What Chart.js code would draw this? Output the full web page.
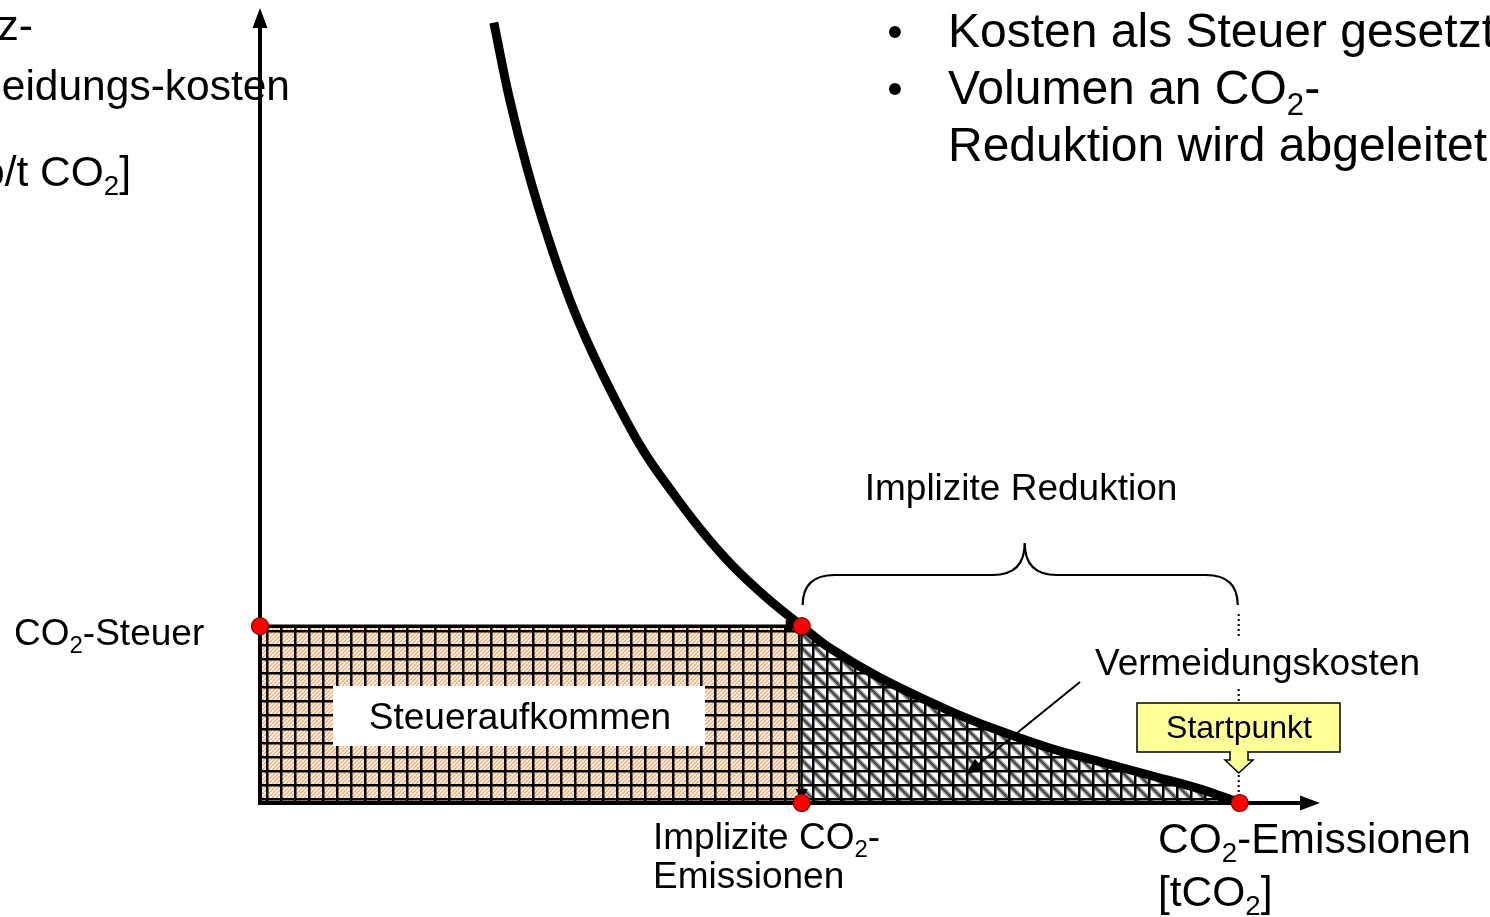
<!DOCTYPE html>
<html lang="de">
<head>
<meta charset="UTF-8">
<title>CO2-Steuer</title>
<script src="https://cdn.jsdelivr.net/npm/chart.js@4.4.0/dist/chart.umd.min.js"></script>
<style>
  html, body { margin: 0; padding: 0; background: #fff; }
  canvas { display: block; }
</style>
</head>
<body>
<canvas id="myChart" width="1490" height="917"></canvas>
<script>
// Grenzvermeidungskostenkurve (x: Emissionen, y: Kosten, beliebige Einheiten)
var curveX = [22.1, 23.6, 25.3, 27.3, 29.3, 31.3, 33.6, 36.2, 38.8, 41.7, 44.6, 47.8, 51.2, 53.9, 58.6, 65.2, 69.9, 74.7, 79.4, 84.1, 88.8, 92.6];
var curveY = [98.4, 88.7, 79.8, 71.0, 63.4, 57.1, 50.8, 44.5, 39.5, 34.4, 30.0, 26.0, 22.3, 19.5, 15.8, 11.6, 9.1, 6.9, 5.2, 3.5, 1.8, 0];
var taxLevel = 22.3;          // CO2-Steuer
var impliedEmissions = 51.2;  // Implizite CO2-Emissionen
var startEmissions = 92.6;    // Startpunkt
var axisMax = 100;

var FONT = '"Liberation Sans", Arial, sans-serif';

function makePattern(kind) {
    var c = document.createElement('canvas');
    c.width = 14; c.height = 14;
    var g = c.getContext('2d');
    g.fillStyle = '#fff';
    g.fillRect(0, 0, 14, 14);
    if (kind === 'orange') {
        g.strokeStyle = '#eeae74';
        g.lineWidth = 1.4;
        for (var k = -14; k <= 28; k += 4) {
            g.beginPath(); g.moveTo(k, 14); g.lineTo(k + 14, 0); g.stroke();
        }
    } else {
        g.strokeStyle = '#a8a8a8';
        g.lineWidth = 5;
        g.beginPath(); g.moveTo(0, 0); g.lineTo(14, 14); g.stroke();
        g.strokeStyle = '#454545';
        g.lineWidth = 2.2;
        g.beginPath(); g.moveTo(0, 0); g.lineTo(14, 14); g.stroke();
    }
    g.fillStyle = '#000';
    g.fillRect(0, 0, 14, 2.5);
    g.fillRect(0, 0, 2.5, 14);
    return g.createPattern(c, 'repeat');
}

var curve = curveX.map(function (x, i) { return { x: x, y: curveY[i] }; });
var costArea = curve.filter(function (p) { return p.x >= impliedEmissions; });
var taxArea = [{ x: 0, y: taxLevel }, { x: impliedEmissions, y: taxLevel }];
var keyPoints = [
    { x: 0, y: taxLevel },
    { x: impliedEmissions, y: taxLevel },
    { x: impliedEmissions, y: 0 },
    { x: startEmissions, y: 0 }
];

function richText(ctx, parts, x, y, size, align) {
    var sub = size * 0.65, w = 0;
    parts.forEach(function (p) {
        ctx.font = (p[1] ? sub : size) + 'px ' + FONT;
        w += ctx.measureText(p[0]).width;
    });
    var cx = align === 'right' ? x - w : (align === 'center' ? x - w / 2 : x);
    ctx.textAlign = 'left';
    ctx.textBaseline = 'alphabetic';
    ctx.fillStyle = '#000';
    parts.forEach(function (p) {
        ctx.font = (p[1] ? sub : size) + 'px ' + FONT;
        ctx.fillText(p[0], cx, p[1] ? y + size * 0.22 : y);
        cx += ctx.measureText(p[0]).width;
    });
}

function arrowHead(ctx, x, y, ang, len, wid) {
    ctx.save();
    ctx.translate(x, y);
    ctx.rotate(ang);
    ctx.beginPath();
    ctx.moveTo(0, 0);
    ctx.lineTo(-len, -wid / 2);
    ctx.lineTo(-len, wid / 2);
    ctx.closePath();
    ctx.fillStyle = '#000';
    ctx.fill();
    ctx.restore();
}

var diagram = {
    id: 'diagram',
    beforeDatasetDraw: function (chart, args) {
        if (args.index !== 2) return;
        // axes, rectangle border and drop line, below the curve
        var ctx = chart.ctx, xs = chart.scales.x, ys = chart.scales.y;
        var x0 = xs.getPixelForValue(0), y0 = ys.getPixelForValue(0);
        var xT = xs.getPixelForValue(impliedEmissions), yT = ys.getPixelForValue(taxLevel);
        ctx.save();
        ctx.strokeStyle = '#000';
        ctx.lineCap = 'butt';
        ctx.lineWidth = 4;
        ctx.beginPath();
        ctx.moveTo(x0, y0 + 2); ctx.lineTo(x0, ys.getPixelForValue(axisMax) + 16);
        ctx.moveTo(x0 - 2, y0); ctx.lineTo(xs.getPixelForValue(axisMax) - 16, y0);
        ctx.stroke();
        arrowHead(ctx, x0, ys.getPixelForValue(axisMax) - 2, -Math.PI / 2, 20, 15);
        arrowHead(ctx, xs.getPixelForValue(axisMax) + 2, y0, 0, 20, 15);

        ctx.lineWidth = 3.5;
        ctx.beginPath();
        ctx.moveTo(x0, yT); ctx.lineTo(xT - 12, yT);
        ctx.stroke();
        arrowHead(ctx, xT - 2, yT, 0, 14, 13);
        ctx.lineWidth = 2;
        ctx.beginPath();
        ctx.moveTo(xT, yT); ctx.lineTo(xT, y0 - 10);
        ctx.stroke();
        arrowHead(ctx, xT, y0 - 2, Math.PI / 2, 12, 12);
        ctx.restore();
    },
    afterDatasetsDraw: function (chart) {
        var ctx = chart.ctx, xs = chart.scales.x, ys = chart.scales.y;
        var xT = xs.getPixelForValue(impliedEmissions);
        var xS = xs.getPixelForValue(startEmissions);
        var y0 = ys.getPixelForValue(0);
        ctx.save();

        // Achsenbeschriftung (links angeschnitten wie im Original)
        richText(ctx, [['Grenz-']], 33, 40, 42.5, 'right');
        richText(ctx, [['Vermeidungs-kosten']], 290, 100, 42.5, 'right');
        richText(ctx, [['[Euro/t CO'], ['2', 1], [']']], 131, 186, 42.5, 'right');

        // Aufzählung
        ctx.font = '44px ' + FONT;
        ctx.textAlign = 'center';
        ctx.fillText('\u2022', 895, 47);
        ctx.fillText('\u2022', 895, 104);
        richText(ctx, [['Kosten als Steuer gesetzt']], 948, 47, 48, 'left');
        richText(ctx, [['Volumen an CO'], ['2', 1], ['-']], 948, 104, 48, 'left');
        richText(ctx, [['Reduktion wird abgeleitet']], 948, 161, 48, 'left');

        // geschweifte Klammer
        var yb = 605, yh = 575, yt = 543, r = 32, xm = (xT + xS) / 2 + 4;
        ctx.strokeStyle = '#000';
        ctx.lineWidth = 2.2;
        ctx.beginPath();
        ctx.moveTo(xT + 1, yb);
        ctx.quadraticCurveTo(xT + 1, yh, xT + 1 + r, yh);
        ctx.lineTo(xm - r, yh);
        ctx.quadraticCurveTo(xm, yh, xm, yt);
        ctx.quadraticCurveTo(xm, yh, xm + r, yh);
        ctx.lineTo(xS - 2 - r, yh);
        ctx.quadraticCurveTo(xS - 2, yh, xS - 2, yb);
        ctx.stroke();
        richText(ctx, [['Implizite Reduktion']], 1021, 500, 37, 'center');

        // gepunktete Linie über dem Startpunkt
        ctx.setLineDash([2, 3]);
        ctx.lineWidth = 2;
        ctx.beginPath();
        ctx.moveTo(xS - 1, 614); ctx.lineTo(xS - 1, 703);
        ctx.moveTo(xS - 1, 760); ctx.lineTo(xS - 1, y0 - 8);
        ctx.stroke();
        ctx.setLineDash([]);

        // Vermeidungskosten
        ctx.fillStyle = '#fff';
        ctx.fillRect(1090, 637, 340, 50);
        richText(ctx, [['Vermeidungskosten']], 1095, 675, 37, 'left');
        ctx.lineWidth = 2;
        ctx.beginPath();
        ctx.moveTo(1080, 682); ctx.lineTo(975, 767);
        ctx.stroke();
        arrowHead(ctx, 965, 775, Math.atan2(775 - 682, 965 - 1080), 18, 13);

        // Startpunkt-Kasten mit Pfeil
        ctx.fillStyle = '#ffff99';
        ctx.strokeStyle = '#000';
        ctx.lineWidth = 1.5;
        ctx.fillRect(1137, 703, 203, 49);
        ctx.strokeRect(1137, 703, 203, 49);
        ctx.beginPath();
        ctx.moveTo(1230, 752); ctx.lineTo(1230, 760); ctx.lineTo(1225, 760);
        ctx.lineTo(xS - 1, 773); ctx.lineTo(1253, 760); ctx.lineTo(1248, 760);
        ctx.lineTo(1248, 752);
        ctx.fill();
        ctx.stroke();
        ctx.fillStyle = '#ffff99';
        ctx.fillRect(1231, 750, 16, 4);
        richText(ctx, [['Startpunkt']], 1239, 738, 32, 'center');

        // Steueraufkommen
        ctx.fillStyle = '#fff';
        ctx.fillRect(333, 686, 372, 60);
        richText(ctx, [['Steueraufkommen']], 520, 729, 37, 'center');

        richText(ctx, [['CO'], ['2', 1], ['-Steuer']], 14, 645, 37, 'left');
        richText(ctx, [['Implizite CO'], ['2', 1], ['-']], 653, 849, 37, 'left');
        richText(ctx, [['Emissionen']], 653, 888, 37, 'left');
        richText(ctx, [['CO'], ['2', 1], ['-Emissionen']], 1158, 853, 42.5, 'left');
        richText(ctx, [['[tCO'], ['2', 1], [']']], 1158, 906, 42.5, 'left');
        ctx.restore();
    }
};

new Chart(document.getElementById('myChart').getContext('2d'), {
    type: 'line',
    data: {
        datasets: [
            { data: taxArea, fill: 'origin', backgroundColor: makePattern('orange'),
              borderWidth: 0, pointRadius: 0, tension: 0, order: 4 },
            { data: costArea, fill: 'origin', backgroundColor: makePattern('grey'),
              borderWidth: 0, pointRadius: 0, tension: 0.4, order: 3 },
            { data: curve, fill: false, borderColor: '#000', borderWidth: 9,
              pointRadius: 0, tension: 0.4, order: 2 },
            { data: keyPoints, showLine: false, pointRadius: 8.5, pointBackgroundColor: '#ff0000',
              pointBorderColor: '#7a0000', pointBorderWidth: 1.2, order: 1 }
        ]
    },
    options: {
        responsive: false,
        animation: false,
        layout: { padding: { left: 260, right: 172, top: 10, bottom: 114 } },
        scales: {
            x: { type: 'linear', min: 0, max: axisMax, display: false },
            y: { type: 'linear', min: 0, max: axisMax, display: false }
        },
        plugins: { legend: { display: false }, tooltip: { enabled: false } },
        clip: false
    },
    plugins: [diagram]
});
</script>
</body>
</html>
